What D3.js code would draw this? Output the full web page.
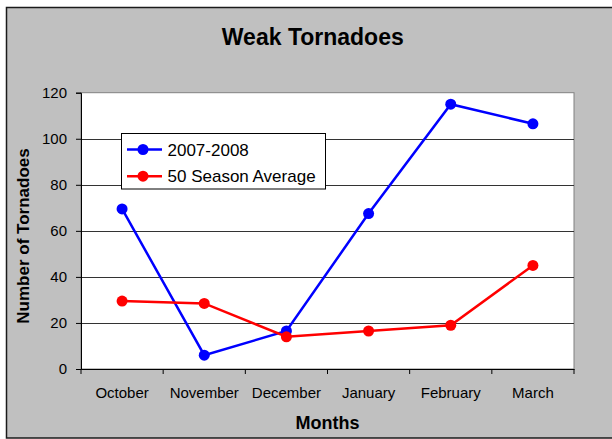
<!DOCTYPE html>
<html>
<head>
<meta charset="utf-8">
<script src="https://cdn.jsdelivr.net/npm/d3@7"></script>
<style>
  body { margin: 0; background: #fff; }
  svg { display: block; font-family: "Liberation Sans", Arial, sans-serif; }
</style>
</head>
<body>
<svg></svg>
<script>
let months = ["October", "November", "December", "January", "February", "March"];
let season0708 = [69.5, 6, 16.5, 67.5, 115, 106.5];
let seasonAvg = [29.5, 28.5, 14, 16.5, 19, 45];
let yTicks = [0, 20, 40, 60, 80, 100, 120];
let seriesNames = ["2007-2008", "50 Season Average"];
let seriesColors = ["#0000ff", "#ff0000"];

let width = 612;
let height = 439;
let plot = { left: 81, right: 574, top: 92.7, bottom: 369 };

let svg = d3.select("svg").attr("width", width).attr("height", height);

// outer chart frame
svg.append("rect")
  .attr("x", 6.5).attr("y", 7.5)
  .attr("width", 640).attr("height", 430.5)
  .attr("fill", "#c0c0c0")
  .attr("stroke", "#1a1a1a")
  .attr("stroke-width", 1.5);

let xScale = d3.scaleBand().domain(months).range([plot.left, plot.right]);
let yScale = d3.scaleLinear().domain([0, 120]).range([plot.bottom, plot.top]);

// plot area
svg.append("rect")
  .attr("x", plot.left).attr("y", plot.top)
  .attr("width", plot.right - plot.left).attr("height", plot.bottom - plot.top)
  .attr("fill", "#fff")
  .attr("stroke", "#808080")
  .attr("stroke-width", 1);

// gridlines
svg.append("g")
  .selectAll("line")
  .data(yTicks.filter((d) => d > 0 && d < 120))
  .enter()
  .append("line")
  .attr("x1", plot.left).attr("x2", plot.right)
  .attr("y1", (d) => Math.round(yScale(d)) + 0.5)
  .attr("y2", (d) => Math.round(yScale(d)) + 0.5)
  .attr("stroke", "#333")
  .attr("stroke-width", 1);

// y axis
let yAxis = d3.axisLeft(yScale).tickValues(yTicks).tickSize(5).tickPadding(9);
let gy = svg.append("g")
  .attr("transform", "translate(" + plot.left + ",0)")
  .call(yAxis);
gy.selectAll("text").attr("font-size", 15).attr("font-family", null).attr("fill", "#000");
gy.selectAll("line, path").attr("stroke", "#000");

// x axis: labels centered, ticks on category boundaries
let xAxis = d3.axisBottom(xScale).tickSize(0).tickPadding(18);
let gx = svg.append("g")
  .attr("transform", "translate(0," + plot.bottom + ")")
  .call(xAxis);
gx.select(".domain").attr("stroke", "#000");
gx.selectAll("text").attr("font-size", 15).attr("font-family", null).attr("fill", "#000");

let bounds = months.map((m) => xScale(m)).concat([plot.right]);
svg.append("g")
  .selectAll("line")
  .data(bounds)
  .enter()
  .append("line")
  .attr("x1", (d) => d).attr("x2", (d) => d)
  .attr("y1", plot.bottom).attr("y2", plot.bottom + 5)
  .attr("stroke", "#000");

// series
let series = [season0708, seasonAvg];
let line = d3.line()
  .x((d, i) => xScale(months[i]) + xScale.bandwidth() / 2)
  .y((d) => yScale(d));

series.forEach((vals, s) => {
  svg.append("path")
    .datum(vals)
    .attr("d", line)
    .attr("fill", "none")
    .attr("stroke", seriesColors[s])
    .attr("stroke-width", 2.5);
  svg.append("g")
    .selectAll("circle")
    .data(vals)
    .enter()
    .append("circle")
    .attr("cx", (d, i) => xScale(months[i]) + xScale.bandwidth() / 2)
    .attr("cy", (d) => yScale(d))
    .attr("r", 5.5)
    .attr("fill", seriesColors[s]);
});

// legend
let legend = svg.append("g").attr("transform", "translate(121.5,133.5)");
legend.append("rect")
  .attr("width", 204).attr("height", 55.5)
  .attr("fill", "#fff")
  .attr("stroke", "#000")
  .attr("stroke-width", 1);
seriesNames.forEach((name, i) => {
  let y = 16 + i * 26.7;
  legend.append("line")
    .attr("x1", 5.5).attr("x2", 40.5)
    .attr("y1", y).attr("y2", y)
    .attr("stroke", seriesColors[i])
    .attr("stroke-width", 2.5);
  legend.append("circle")
    .attr("cx", 21.5).attr("cy", y).attr("r", 5.5)
    .attr("fill", seriesColors[i]);
  legend.append("text")
    .attr("x", 46).attr("y", y + 6)
    .attr("font-size", 17)
    .text(name);
});

// titles
svg.append("text")
  .attr("x", 312.8).attr("y", 45)
  .attr("text-anchor", "middle")
  .attr("font-size", 23)
  .attr("font-weight", "bold")
  .text("Weak Tornadoes");

svg.append("text")
  .attr("x", 327.5).attr("y", 428.5)
  .attr("text-anchor", "middle")
  .attr("font-size", 18)
  .attr("font-weight", "bold")
  .text("Months");

svg.append("text")
  .attr("transform", "translate(28.5,236) rotate(-90)")
  .attr("text-anchor", "middle")
  .attr("font-size", 17)
  .attr("font-weight", "bold")
  .text("Number of Tornadoes");
</script>
</body>
</html>
